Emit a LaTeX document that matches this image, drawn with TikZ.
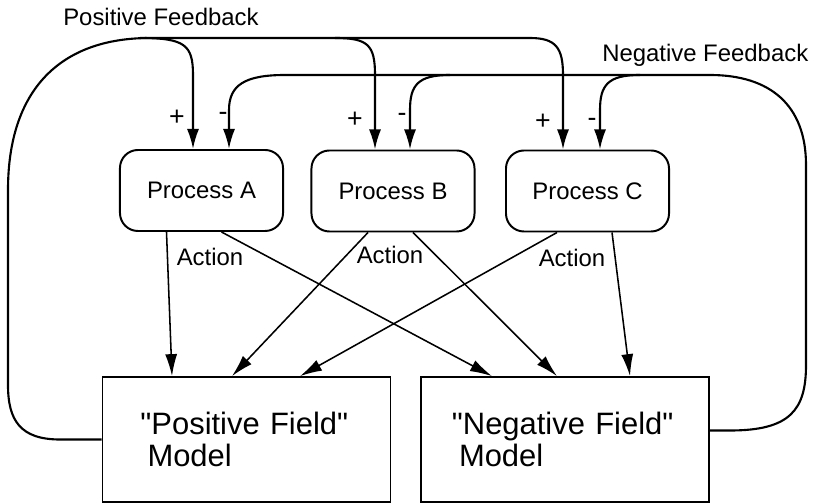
\documentclass[tikz,border=0pt]{standalone}
\usepackage{fontspec}
\setmainfont{Liberation Sans}[Ligatures=TeXOff]
\usetikzlibrary{arrows.meta,calc}

\tikzset{
  proc/.style = {rectangle, draw, rounded corners=0.45cm, line width=1.4pt,
                 minimum width=4.075cm, minimum height=2.025cm,
                 font=\fontsize{17}{20}\selectfont},
  model/.style = {rectangle, draw, line width=1.2pt, align=left,
                  minimum width=7.2cm, minimum height=3.125cm,
                  font=\fontsize{22}{23}\selectfont},
  lbl/.style = {inner sep=0pt, font=\fontsize{17}{20}\selectfont},
  sign/.style = {inner sep=0pt, font=\fontsize{19}{20}\selectfont},
  fb/.style = {line width=1.5pt, -{Latex[length=0.5cm,width=0.3cm]}},
  act/.style = {line width=1.1pt, -{Latex[length=0.55cm,width=0.3cm]}},
}

\begin{document}
\begin{tikzpicture}[x=0.025cm, y=-0.025cm]
\useasboundingbox (0,0) rectangle (814,503);

% processos
\node [proc] at (201.5,190.5) (pa) {Process A};
\node [proc] at (393,191) (pb) {Process B};
\node [proc] at (587.5,191) (pc) {Process C};

% modelos
\node [model, text width=5.3cm] at (246.5,439.5) (pf)
    {"Positive Field"\\\hspace*{5pt}Model};
\node [model, text width=5.65cm] at (565,439.5) (nf)
    {"Negative Field"\\\hspace*{5pt}Model};

% entradas nos processos
\coordinate (paP) at ($(pa.north)+(-8.5,0)$);
\coordinate (paN) at ($(pa.north)+(27.5,0)$);
\coordinate (pbP) at ($(pb.north)+(-18,0)$);
\coordinate (pbN) at ($(pb.north)+(17,0)$);
\coordinate (pcP) at ($(pc.north)+(-24.5,0)$);
\coordinate (pcN) at ($(pc.north)+(12.5,0)$);

% realimentacao positiva
\draw [fb] (pf.west) -- (60,439.5) .. controls (20,439.5) and (8,420) .. (8,385)
    -- (8,190) .. controls (8,90) and (60,38) .. (150,38) -- (530,38)
    .. controls (556,38) and (563,48) .. (563,75) -- (pcP);
\draw [fb] (140,38) .. controls (185,38) and (193,45) .. (193,75) -- (paP);
\draw [fb] (335,38) .. controls (368,38) and (375,45) .. (375,75) -- (pbP);

% realimentacao negativa
\draw [fb] ($(nf.east)+(0,-9)$) -- (730,430.5) .. controls (790,430.5) and (806,410) .. (806,365)
    -- (806,165) .. controls (806,105) and (770,75) .. (710,75) -- (285,75)
    .. controls (245,75) and (229,85) .. (229,110) -- (paN);
\draw [fb] (450,75) .. controls (418,75) and (410,85) .. (410,110) -- (pbN);
\draw [fb] (640,75) .. controls (608,75) and (600,85) .. (600,110) -- (pcN);

% sinais
\node [sign] at (177,118) (plusA) {+};
\node [sign] at (223,116) (minusA) {-};
\node [sign] at (355,120) (plusB) {+};
\node [sign] at (402,117) (minusB) {-};
\node [sign] at (543,122) (plusC) {+};
\node [sign] at (592,122) (minusC) {-};

% acoes
\draw [act] ($(pa.south)+(-35,0)$) -- ($(pf.north)+(-74.5,0)$);
\draw [act] ($(pa.south)+(20,0)$) -- ($(nf.north)+(-73,0)$);
\draw [act] ($(pb.south)+(-25,0)$) -- ($(pf.north)+(-14.5,0)$);
\draw [act] ($(pb.south)+(20,0)$) -- ($(nf.north)+(-8,0)$);
\draw [act] ($(pc.south)+(-30.5,0)$) -- ($(pf.north)+(53.5,0)$);
\draw [act] ($(pc.south)+(24.5,0)$) -- ($(nf.north)+(65,0)$);

\node [lbl] at (210,257) (actA) {Action};
\node [lbl] at (390,255) (actB) {Action};
\node [lbl] at (572,258) (actC) {Action};

% titulos
\node [lbl, anchor=base west] at (63,26) (posfb) {Positive Feedback};
\node [lbl, anchor=base west] at (602,62) (negfb) {Negative Feedback};
\end{tikzpicture}
\end{document}
